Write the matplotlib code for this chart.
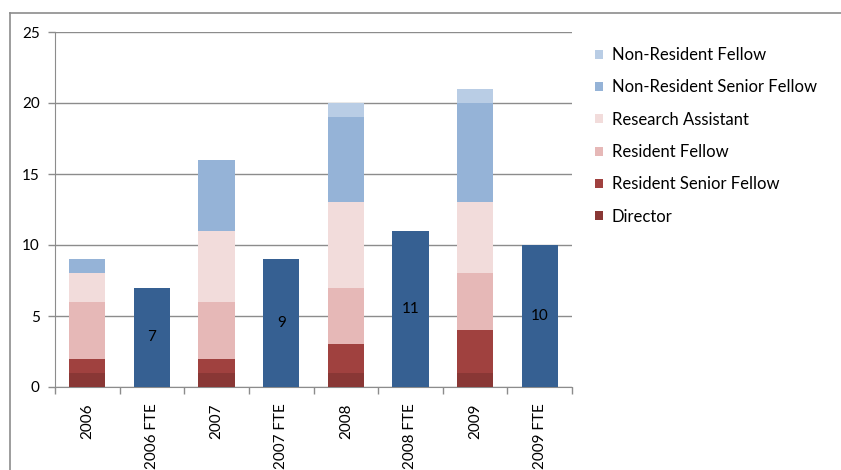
import matplotlib.pyplot as plt
from matplotlib.lines import Line2D
from matplotlib.patches import Patch

plt.rcParams['font.family'] = ['Lato', 'DejaVu Sans']

categories = ["2006", "2006 FTE", "2007", "2007 FTE", "2008", "2008 FTE", "2009", "2009 FTE"]

# stacked staff counts, year columns only (2006, 2007, 2008, 2009)
director = [1, 1, 1, 1]
resident_senior = [1, 1, 2, 3]
resident_fellow = [4, 4, 4, 4]
research_assistant = [2, 5, 6, 5]
nonres_senior = [1, 5, 6, 7]
nonres_fellow = [0, 0, 1, 1]

fte = [7, 9, 11, 10]

series = [
    ("Director", director, "#893735"),
    ("Resident Senior Fellow", resident_senior, "#A0413F"),
    ("Resident Fellow", resident_fellow, "#E6B8B7"),
    ("Research Assistant", research_assistant, "#F2DCDB"),
    ("Non-Resident Senior Fellow", nonres_senior, "#95B3D7"),
    ("Non-Resident Fellow", nonres_fellow, "#B9CDE5"),
]
fte_color = "#366092"

fig = plt.figure(figsize=(8.41, 4.70), dpi=100)
ax = fig.add_axes([55 / 841, 83 / 470, 517 / 841, 355 / 470])

year_x = [0, 2, 4, 6]
fte_x = [1, 3, 5, 7]
width = 0.56

bottom = [0] * len(year_x)
for name, vals, col in series:
    ax.bar(year_x, vals, width, bottom=bottom, color=col, zorder=3)
    bottom = [b + v for b, v in zip(bottom, vals)]

bars = ax.bar(fte_x, fte, width, color=fte_color, zorder=3)
for b, v in zip(bars, fte):
    ax.text(b.get_x() + b.get_width() / 2, v / 2, str(v), ha="center", va="center",
            fontsize=11, color="black", zorder=4)

ax.set_xlim(-0.5, 7.5)
ax.set_ylim(0, 25)
ax.set_yticks([0, 5, 10, 15, 20, 25])
ax.yaxis.grid(True, color="#8c8c8c", linewidth=1, zorder=0)
ax.set_axisbelow(True)

ax.set_xticks(range(8))
ax.set_xticklabels(categories, rotation=90, fontsize=11)
ax.tick_params(axis="x", length=0, pad=12)
ax.set_xticks([i - 0.5 for i in range(9)], minor=True)
ax.tick_params(axis="x", which="minor", length=5, color="#8c8c8c", width=1)
ax.tick_params(axis="y", length=5, color="#8c8c8c", width=1, labelsize=11, pad=6)

for s in ["top", "right"]:
    ax.spines[s].set_visible(False)
for s in ["left", "bottom"]:
    ax.spines[s].set_color("#8c8c8c")

handles = [Patch(facecolor=col, label=name) for name, vals, col in series[::-1]]
fig.legend(handles=handles, loc="upper left", bbox_to_anchor=(580 / 841, 1 - 32 / 470),
           frameon=False, fontsize=12, handlelength=0.45, handleheight=0.45,
           handletextpad=0.55, labelspacing=0.98)

# outer chart frame
fig.add_artist(Line2D([10 / 841, 1], [1 - 13 / 470, 1 - 13 / 470], color="#8c8c8c", lw=1.2))
fig.add_artist(Line2D([10 / 841, 10 / 841], [0, 1 - 13 / 470], color="#8c8c8c", lw=1.2))

fig.savefig("out.png", dpi=100)
